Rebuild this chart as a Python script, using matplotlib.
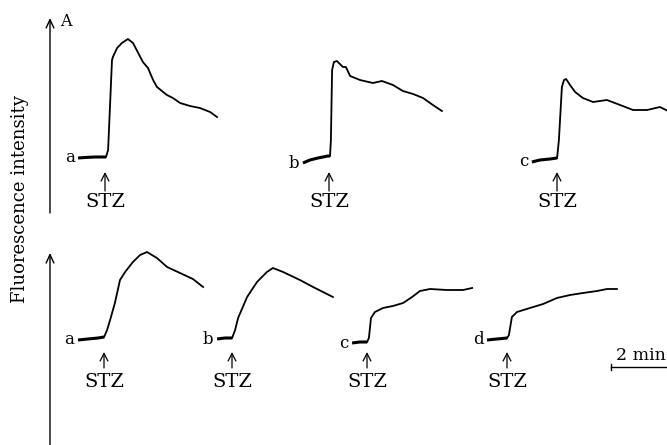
import matplotlib.pyplot as plt
from matplotlib.transforms import Affine2D

plt.rcParams['font.family'] = ['DejaVu Serif']

# trace scaling (the "2 min" bar sets the time axis)
PX_PER_MIN = 30
PX_PER_AU = 10
SCALE_BAR_MIN = 2

# time after STZ (min) and fluorescence above baseline (a.u.)
# panel A, upper row
top_a_t = [-0.93, -0.7, -0.37, 0, 0.07, 0.2, 0.23, 0.37, 0.53, 0.73, 0.9, 1.23, 1.4, 1.57, 1.7,
           2.03, 2.23, 2.47, 2.8, 3.13, 3.47, 3.7]
top_a_f = [-0.1, -0.05, 0, 0, 0.7, 9.7, 10.0, 10.9, 11.4, 11.8, 11.4, 9.5, 8.9, 7.7, 7.0,
           6.2, 5.9, 5.4, 5.1, 4.9, 4.5, 4.0]

top_b_t = [-0.9, -0.67, -0.4, -0.07, 0, 0.03, 0.07, 0.13, 0.23, 0.43, 0.53, 0.67, 1.0, 1.43,
           1.73, 2.1, 2.43, 2.77, 3.1, 3.43, 3.73]
top_b_f = [-0.7, -0.4, -0.2, 0, 0, 1.6, 8.6, 9.4, 9.5, 8.9, 8.9, 8.0, 7.6, 7.3,
           7.5, 7.1, 6.5, 6.2, 5.8, 5.1, 4.5]

top_c_t = [-0.87, -0.6, -0.27, -0.03, 0.03, 0.13, 0.2, 0.27, 0.4, 0.57, 0.83, 1.17, 1.63,
           2.07, 2.5, 2.97, 3.4, 3.73]
top_c_f = [-0.4, -0.2, -0.1, 0, 1.8, 7.1, 7.8, 7.9, 7.3, 6.6, 6.0, 5.6, 5.8,
           5.3, 4.8, 4.8, 5.1, 4.6]

# panel A, lower row
bot_a_t = [-0.9, -0.57, -0.23, -0.03, 0.07, 0.17, 0.33, 0.5, 0.67, 0.93, 1.17, 1.4, 1.73,
           2.07, 2.5, 2.93, 3.27]
bot_a_f = [-0.3, -0.2, -0.1, 0, 0.7, 1.7, 3.4, 5.7, 6.5, 7.5, 8.2, 8.5, 7.9,
           7.0, 6.4, 5.8, 5.0]

bot_b_t = [-0.53, -0.27, -0.03, 0.07, 0.17, 0.47, 0.8, 1.13, 1.33, 1.67, 2.23, 2.67, 3.0, 3.33]
bot_b_f = [-0.1, 0, 0, 0.8, 2.0, 4.1, 5.6, 6.6, 7.0, 6.6, 5.8, 5.1, 4.6, 4.1]

bot_c_t = [-0.53, -0.27, -0.03, 0.03, 0.1, 0.23, 0.5, 0.83, 1.17, 1.47, 1.73, 2.07, 2.63,
           3.17, 3.47]
bot_c_f = [-0.1, 0, 0, 0.4, 2.4, 3.0, 3.4, 3.6, 3.9, 4.5, 5.1, 5.3, 5.2, 5.2, 5.4]

bot_d_t = [-0.7, -0.37, -0.03, 0.03, 0.13, 0.3, 0.73, 1.17, 1.63, 2.07, 2.5, 2.97, 3.3, 3.63]
bot_d_f = [-0.2, -0.1, 0, 0.3, 2.1, 2.6, 3.0, 3.4, 4.0, 4.3, 4.5, 4.7, 4.9, 4.9]

# layout: (STZ x, baseline y) of each trace, and per-row arrow / label heights
traces = [
    ('a', top_a_t, top_a_f, (106, 157), 0),
    ('b', top_b_t, top_b_f, (330, 156), 0),
    ('c', top_c_t, top_c_f, (558, 158), 0),
    ('a', bot_a_t, bot_a_f, (105, 337), 1),
    ('b', bot_b_t, bot_b_f, (233, 338), 1),
    ('c', bot_c_t, bot_c_f, (368, 342), 1),
    ('d', bot_d_t, bot_d_f, (508, 338), 1),
]
rows = [(172, 191, 202), (352, 368, 382)]

fig = plt.figure(figsize=(6.67, 4.45), dpi=100)
ax = fig.add_axes([0, 0, 1, 1])
ax.set_xlim(0, 667)
ax.set_ylim(445, 0)
ax.axis('off')

arrow = dict(arrowstyle='->,head_length=0.55,head_width=0.28', lw=0.9, color='k',
             shrinkA=0, shrinkB=0)

for name, t, f, (x0, y0), row in traces:
    tr = Affine2D().scale(PX_PER_MIN, -PX_PER_AU).translate(x0, y0) + ax.transData
    n0 = sum(1 for v in t if v <= 0)
    # resting part of the recording looks heavier in the scan
    ax.plot(t[:n0], f[:n0], color='k', lw=2.2, transform=tr, solid_capstyle='butt')
    ax.plot(t[n0 - 1:], f[n0 - 1:], color='k', lw=1.3, transform=tr)
    ax.text(t[0] - 0.12, f[0], name, transform=tr, ha='right', va='center', fontsize=12)
    head, tail, lab = rows[row]
    ax.annotate('', xy=(x0 - 1, head), xytext=(x0 - 1, tail), arrowprops=arrow)
    ax.text(x0 - 1, lab, 'STZ', ha='center', va='center', fontsize=14)

# intensity axes
axis_arrow = dict(arrowstyle='->,head_length=0.6,head_width=0.28', lw=1.0, color='k',
                  shrinkA=0, shrinkB=0)
ax.annotate('', xy=(50, 18), xytext=(50, 213), arrowprops=axis_arrow)
ax.annotate('', xy=(50, 253), xytext=(50, 447), arrowprops=axis_arrow)
ax.text(60, 21, 'A', ha='left', va='center', fontsize=11.5)
ax.text(20, 199, 'Fluorescence intensity', rotation=90, ha='center', va='center',
        fontsize=13)

# time scale bar
sb = Affine2D().scale(PX_PER_MIN, 1).translate(611, 367) + ax.transData
ax.plot([0, SCALE_BAR_MIN], [0, 0], color='k', lw=1.0, transform=sb)
ax.plot([0, 0], [-3, 3], color='k', lw=1.0, transform=sb)
ax.text(616, 360, '2 min', ha='left', va='baseline', fontsize=12.5)

fig.savefig('out.png', dpi=100)
